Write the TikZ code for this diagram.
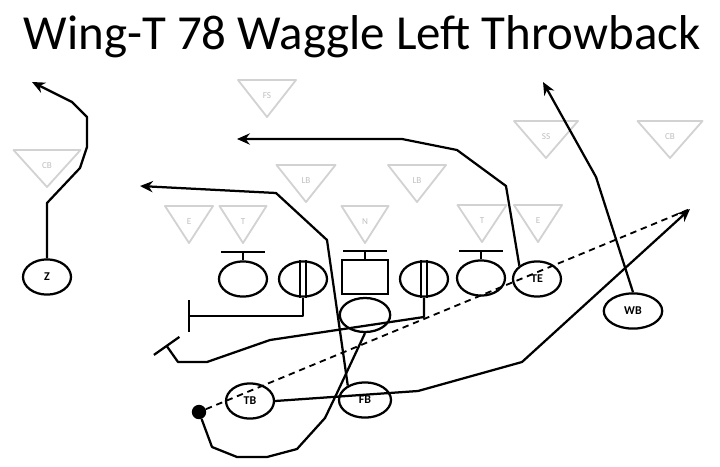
\documentclass[tikz,border=0pt]{standalone}
\usepackage{fontspec}
\setmainfont{Carlito}
\usetikzlibrary{shapes.geometric,arrows.meta}
\tikzstyle{player} = [ellipse, draw, line width=1.6pt, inner sep=0pt, minimum width=1.2cm, minimum height=0.88cm, font=\fontsize{8.5}{8.5}\selectfont\bfseries]
\tikzstyle{snapper} = [rectangle, draw, line width=1.6pt, inner sep=0pt, minimum width=1.16cm, minimum height=0.86cm]
\tikzstyle{ball} = [circle, fill, inner sep=0pt, minimum size=0.36cm]
\tikzstyle{defender} = [draw=gray!35, line width=1.3pt, line join=round]
\tikzstyle{deflabel} = [text=gray!50, inner sep=0pt, font=\fontsize{6.5}{6.5}\selectfont]
\tikzstyle{line} = [line width=1.6pt, line join=round]
\tikzstyle{route} = [line, -{Stealth[length=0.32cm, width=0.28cm]}]
\tikzstyle{block} = [line, -{Bar[width=0.78cm]}]
\tikzstyle{pass} = [line width=1.3pt, dash pattern=on 0.16cm off 0.12cm]

\begin{document}
\begin{tikzpicture}[x=0.025cm, y=-0.025cm]
    \useasboundingbox (0,0) rectangle (720,466);
    \node[font=\fontsize{34.8}{36}\selectfont] (title) at (362,37) {Wing-T 78 Waggle Left Throwback};
    % defense
    \foreach \n/\x/\y/\w/\l in {1/267/80/58/FS, 2/47/150/67/CB, 3/306/165/59/LB, 4/417/165/58/LB, 5/189/206/48/E, 6/243/206/47/T, 7/365/206/47/N, 8/482/205/49/T, 9/538/205/48/E, 10/546/121/64/SS, 11/670/121/65/CB} {
        \draw[defender] (\x-\w/2,\y) -- (\x+\w/2,\y) -- (\x,\y+37) -- cycle;
        \node[deflabel] (d\n) at (\x,\y+16) {\l};
    }
    % offense
    \node[player] (z) at (47,277) {Z};
    \node[player] (lt) at (243,279) {};
    \node[player] (lg) at (303,279) {};
    \node[snapper] (c) at (365,277) {};
    \node[player] (rg) at (424,279) {};
    \node[player] (rt) at (481,278) {};
    \node[player] (te) at (537,279) {TE};
    \node[player, minimum width=1.46cm] (wb) at (633,311) {WB};
    \node[player, minimum width=1.26cm, minimum height=0.85cm] (qb) at (365,315) {};
    \node[player] (tb) at (250,401) {TB};
    \node[player, minimum width=1.3cm] (fb) at (365,400) {FB};
    \node[ball] (ball) at (199,412) {};
    \foreach \p in {lt,c,rt}
        \draw[line] (\p.north) -- ++(0,-8) ++(-22,0) -- ++(44,0);
    \foreach \p in {lg,rg}
        \draw[line] ([xshift=-0.07cm]\p.north) -- ([xshift=-0.07cm]\p.south)
                    ([xshift=0.07cm]\p.north) -- ([xshift=0.07cm]\p.south);
    % route ends
    \coordinate (zend) at (32,82);
    \coordinate (teend) at (237,139);
    \coordinate (wbend) at (543,82);
    \coordinate (fbend) at (140,186);
    \coordinate (tbend) at (690,209);
    % routes
    \draw[route] (z.north) -- (47,203) -- (80,168) -- (87,147) -- (87,117) -- (72,102) -- (zend);
    \draw[route] (te.143) -- (506,186) -- (457,150) -- (402,139) -- (teend);
    \draw[route] (wb.north) -- (596,177) -- (wbend);
    \draw[route] (fb.140) -- (327,240) -- (276,193) -- (fbend);
    \draw[route] (tb.east) -- (418,391) -- (522,362) -- (tbend);
    \draw[pass] (ball) -- (tbend);
    \draw[line] (qb.south) -- (337,393) -- (325,418) -- (297,449) -- (267,457) -- (237,457) -- (212,447) -- (ball);
    % blocks
    \draw[block] (lg.south) -- (303,316) -- (188,316);
    \draw[block] (rg.south) -- (424,317) -- (270,340) -- (207,362) -- (178,362) -- (166,345);
\end{tikzpicture}
\end{document}
